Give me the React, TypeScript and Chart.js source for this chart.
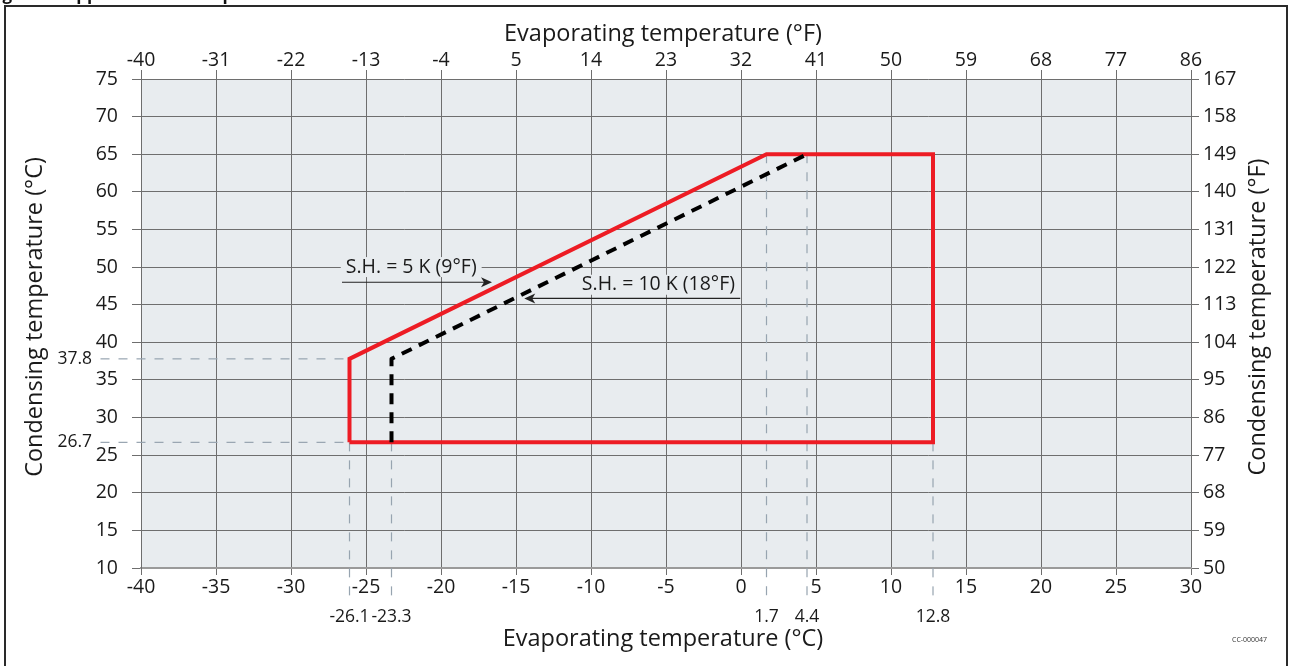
import { useEffect, useRef } from "react";
import { Chart, registerables } from "chart.js";

Chart.register(...registerables);

// ---- Axis ticks ----
const evapTicksC = [-40, -35, -30, -25, -20, -15, -10, -5, 0, 5, 10, 15, 20, 25, 30];
const evapTicksF = [-40, -31, -22, -13, -4, 5, 14, 23, 32, 41, 50, 59, 68, 77, 86];
const condTicksC = [10, 15, 20, 25, 30, 35, 40, 45, 50, 55, 60, 65, 70, 75];
const condTicksF = [50, 59, 68, 77, 86, 95, 104, 113, 122, 131, 140, 149, 158, 167];

// ---- Envelope S.H. = 5 K (red, closed) ----
const envelope5KEvap = [-26.1, -26.1, 1.7, 12.8, 12.8, -26.1];
const envelope5KCond = [26.7, 37.8, 65, 65, 26.7, 26.7];

// ---- Envelope S.H. = 10 K (black dashed) ----
const envelope10KEvap = [-23.3, -23.3, 4.4];
const envelope10KCond = [26.7, 37.8, 65];

// ---- Reference guides ----
const guideEvapValues = [-26.1, -23.3, 1.7, 4.4, 12.8];
const guideEvapFromCond = [26.7, 26.7, 65, 65, 26.7];
const guideEvapToCond = 5.5;
const guideCondValues = [37.8, 26.7];
const guideCondFromEvap = -42.7;
const guideCondToEvap = [-26.1, -26.1];

const evapGuideLabels = ["-26.1", "-23.3", "1.7", "4.4", "12.8"];
const condGuideLabels = ["37.8", "26.7"];

// ---- Annotation labels ----
const annotationTexts = ["S.H. = 5 K (9°F)", "S.H. = 10 K (18°F)"];

// layout / style constants
const FONT = "'Open Sans', 'Liberation Sans', sans-serif";
const TEXT = "#1a1a1a";
const GRID = "#6e6e6e";
const PLOT_BG = "#e8ecef";
const GUIDE = "#97a4b0";
const RED = "#ed1c24";

function drawArrow(ctx: CanvasRenderingContext2D, x1: number, y: number, x2: number) {
  const dir = Math.sign(x2 - x1);
  ctx.save();
  ctx.strokeStyle = "#222";
  ctx.fillStyle = "#222";
  ctx.lineWidth = 1.2;
  ctx.beginPath();
  ctx.moveTo(x1, y + 0.5);
  ctx.lineTo(x2 - dir * 4, y + 0.5);
  ctx.stroke();
  ctx.beginPath();
  ctx.moveTo(x2, y + 0.5);
  ctx.lineTo(x2 - dir * 11, y + 0.5 - 5);
  ctx.lineTo(x2 - dir * 8, y + 0.5);
  ctx.lineTo(x2 - dir * 11, y + 0.5 + 5);
  ctx.closePath();
  ctx.fill();
  ctx.restore();
}

const decorPlugin = {
  id: "decor",
  beforeDraw(chart: any) {
    const { ctx, chartArea } = chart;
    ctx.save();
    ctx.fillStyle = "#ffffff";
    ctx.fillRect(0, 0, chart.width, chart.height);
    ctx.fillStyle = PLOT_BG;
    ctx.fillRect(chartArea.left, chartArea.top, chartArea.right - chartArea.left, chartArea.bottom - chartArea.top);
    ctx.restore();
  },
  afterDraw(chart: any) {
    const { ctx, chartArea, scales } = chart;
    const xs = scales.x;
    const ys = scales.y;
    const cx = (chartArea.left + chartArea.right) / 2;
    const cy = 317;
    ctx.save();
    ctx.fillStyle = TEXT;

    // axis titles
    ctx.font = `23.5px ${FONT}`;
    ctx.textAlign = "center";
    ctx.textBaseline = "middle";
    ctx.fillText("Evaporating temperature (°F)", cx - 3, 34);
    ctx.fillText("Evaporating temperature (°C)", cx - 3, 639);
    ctx.save();
    ctx.translate(35, cy);
    ctx.rotate(-Math.PI / 2);
    ctx.fillText("Condensing temperature (°C)", 0, 0);
    ctx.restore();
    ctx.save();
    ctx.translate(1258, cy);
    ctx.rotate(-Math.PI / 2);
    ctx.fillText("Condensing temperature (°F)", 0, 0);
    ctx.restore();

    // guide value labels
    ctx.font = `17.5px ${FONT}`;
    ctx.textAlign = "center";
    evapGuideLabels.forEach((t, i) => {
      ctx.fillText(t, xs.getPixelForValue(guideEvapValues[i]), 617);
    });
    ctx.textAlign = "right";
    condGuideLabels.forEach((t, i) => {
      ctx.fillText(t, 92, ys.getPixelForValue(guideCondValues[i]));
    });

    // annotations
    ctx.font = `19.5px ${FONT}`;
    ctx.textBaseline = "middle";
    const a1x = xs.getPixelForValue(-26.35);
    const a1y = ys.getPixelForValue(50);
    const w1 = ctx.measureText(annotationTexts[0]).width;
    ctx.fillStyle = PLOT_BG;
    ctx.fillRect(a1x - 5, a1y - 10, w1 + 10, 20);
    ctx.fillStyle = TEXT;
    ctx.textAlign = "left";
    ctx.fillText(annotationTexts[0], a1x, a1y);
    drawArrow(ctx, xs.getPixelForValue(-26.6), ys.getPixelForValue(48.05), xs.getPixelForValue(-16.6));

    const a2x = xs.getPixelForValue(-0.4);
    const a2y = ys.getPixelForValue(47.65);
    const w2 = ctx.measureText(annotationTexts[1]).width;
    ctx.fillStyle = PLOT_BG;
    ctx.fillRect(a2x - w2 - 5, a2y - 10, w2 + 10, 20);
    ctx.fillStyle = TEXT;
    ctx.textAlign = "right";
    ctx.fillText(annotationTexts[1], a2x, a2y);
    drawArrow(ctx, xs.getPixelForValue(-0.05), ys.getPixelForValue(45.9), xs.getPixelForValue(-14.45));

    // drawing code
    ctx.font = `7px ${FONT}`;
    ctx.textAlign = "left";
    ctx.fillStyle = "#333";
    ctx.fillText("CC-000047", 1232, 640);

    // frame
    ctx.strokeStyle = "#2a2a2a";
    ctx.lineWidth = 2;
    ctx.strokeRect(5, 6, 1282, 700);

    // title (cut off at top)
    ctx.font = `bold 17px ${FONT}`;
    ctx.textAlign = "left";
    ctx.textBaseline = "alphabetic";
    ctx.fillStyle = "#111";
    ctx.fillText("Figure 3: Application envelope", -12, 0);
    ctx.restore();
  },
};

const tickFont = { family: FONT, size: 19.5 };

export default function App() {
  const ref = useRef<HTMLCanvasElement>(null);

  useEffect(() => {
    const canvas = ref.current;
    if (!canvas) return;

    const guideStyle = {
      borderColor: GUIDE,
      borderWidth: 1.2,
      borderDash: [9, 9],
      pointRadius: 0,
      showLine: true,
      clip: false,
      order: 3,
      fill: false,
    };

    const datasets: any[] = [
      {
        label: "S.H. = 5 K",
        data: envelope5KEvap.map((x, i) => ({ x, y: envelope5KCond[i] })),
        borderColor: RED,
        borderWidth: 4,
        borderJoinStyle: "miter",
        pointRadius: 0,
        showLine: true,
        order: 1,
      },
      {
        label: "S.H. = 10 K",
        data: envelope10KEvap.map((x, i) => ({ x, y: envelope10KCond[i] })),
        borderColor: "#000000",
        borderWidth: 4,
        borderDash: [11, 8],
        borderJoinStyle: "round",
        pointRadius: 0,
        showLine: true,
        order: 0,
      },
      ...guideEvapValues.map((x, i) => ({
        label: "guide",
        data: [
          { x, y: guideEvapFromCond[i] },
          { x, y: guideEvapToCond },
        ],
        ...guideStyle,
      })),
      ...guideCondValues.map((y, i) => ({
        label: "guide",
        data: [
          { x: guideCondFromEvap, y },
          { x: guideCondToEvap[i], y },
        ],
        ...guideStyle,
      })),
    ];

    const chart = new Chart(canvas, {
      type: "scatter",
      data: { datasets },
      plugins: [decorPlugin],
      options: {
        animation: false,
        responsive: false,
        maintainAspectRatio: false,
        layout: { padding: 0 },
        plugins: { legend: { display: false }, tooltip: { enabled: false } },
        scales: {
          x: {
            type: "linear",
            position: "bottom",
            min: -40,
            max: 30,
            afterBuildTicks: (s: any) => {
              s.ticks = evapTicksC.map((v) => ({ value: v }));
            },
            afterFit: (s: any) => {
              s.height = 98;
            },
            ticks: { font: tickFont, color: TEXT, padding: 1, autoSkip: false, maxRotation: 0 },
            grid: { color: GRID, lineWidth: 1, tickLength: 7 },
            border: { display: true, color: "#9a9a9a", width: 2 },
          },
          x2: {
            type: "linear",
            position: "top",
            min: -40,
            max: 86,
            afterBuildTicks: (s: any) => {
              s.ticks = evapTicksF.map((v) => ({ value: v }));
            },
            afterFit: (s: any) => {
              s.height = 79;
            },
            ticks: { font: tickFont, color: TEXT, padding: -2, autoSkip: false, maxRotation: 0 },
            grid: { drawOnChartArea: false, color: GRID, tickLength: 9 },
            border: { display: false },
          },
          y: {
            type: "linear",
            position: "left",
            min: 10,
            max: 75,
            afterBuildTicks: (s: any) => {
              s.ticks = condTicksC.map((v) => ({ value: v }));
            },
            afterFit: (s: any) => {
              s.width = 141;
            },
            ticks: { font: tickFont, color: TEXT, padding: 14, autoSkip: false },
            grid: {
              color: (c: any) => (c.tick && c.tick.value === 10 ? "rgba(0,0,0,0)" : GRID),
              tickColor: GRID,
              lineWidth: 1,
              tickLength: 9,
            },
            border: { display: true, color: GRID, width: 1 },
          },
          y2: {
            type: "linear",
            position: "right",
            min: 50,
            max: 167,
            afterBuildTicks: (s: any) => {
              s.ticks = condTicksF.map((v) => ({ value: v }));
            },
            afterFit: (s: any) => {
              s.width = 99;
            },
            ticks: { font: tickFont, color: TEXT, padding: 4, autoSkip: false },
            grid: { drawOnChartArea: false, color: GRID, tickLength: 8 },
            border: { display: false },
          },
        },
      } as any,
    });

    return () => chart.destroy();
  }, []);

  return (
    <div style={{ position: "absolute", left: 0, top: 0, width: 1290, height: 666, background: "#fff" }}>
      <canvas ref={ref} width={1290} height={666} style={{ display: "block" }} />
    </div>
  );
}
